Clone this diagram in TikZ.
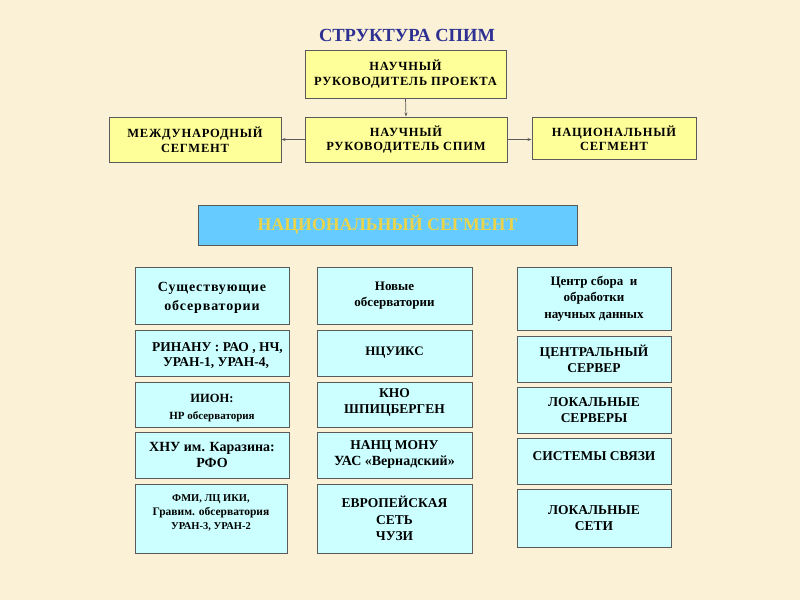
\documentclass[tikz,border=0pt]{standalone}
\usepackage{fontspec}
\setmainfont{Liberation Serif}
\newfontfamily\wideserif[LetterSpace=6]{Liberation Serif}
\usetikzlibrary{arrows.meta}
\definecolor{bgcol}{HTML}{FBF1D6}
\definecolor{yel}{HTML}{FFFF99}
\definecolor{cyanbox}{HTML}{CCFFFF}
\definecolor{barblue}{HTML}{66CCFF}
\definecolor{bartext}{HTML}{EBD44A}
\definecolor{titleblue}{HTML}{2E3192}
\definecolor{edge}{HTML}{5A5A5A}
\newcommand{\fsz}[2]{\fontsize{#1}{#2}\selectfont}
\newcommand{\up}[2]{\raisebox{#1pt}[\height][\depth]{#2}}
\tikzset{
  basebox/.style={draw=edge, line width=1pt, inner sep=0pt, align=center, font=\bfseries\fsz{13.5}{16}},
  ybox/.style={basebox, fill=yel, font=\bfseries\wideserif\fsz{12.5}{14.5}},
  cbox/.style={basebox, fill=cyanbox},
  conn/.style={draw=edge, line width=0.7pt, -{Stealth[length=4pt,width=3pt]}},
  sz/.style 2 args={minimum width=#1pt, minimum height=#2pt}
}
\begin{document}
\begin{tikzpicture}[x=1pt,y=-1pt]
\fill[bgcol] (0,0) rectangle (800,600);
\useasboundingbox (0,0) rectangle (800,600);

\node[font=\bfseries\fsz{18.5}{20}, text=titleblue] (title) at (407,35) {СТРУКТУРА СПИМ};

\node[ybox, sz={201}{48}] (top) at (405.5,74) {\up{-1}{\begin{tabular}{@{}c@{}}НАУЧНЫЙ\\РУКОВОДИТЕЛЬ ПРОЕКТА\end{tabular}}};
\node[ybox, sz={202}{45}] (mid) at (406,139.5) {НАУЧНЫЙ\\РУКОВОДИТЕЛЬ СПИМ};
\node[ybox, sz={172}{45}] (left) at (195,139.5) {МЕЖДУНАРОДНЫЙ\\СЕГМЕНТ};
\node[ybox, sz={164}{42}] (right) at (614,138) {НАЦИОНАЛЬНЫЙ\\СЕГМЕНТ};

\draw[conn] (top.south) -- (mid.north);
\draw[conn] (mid.west) -- (left.east);
\draw[conn] (mid.east) -- (mid.east -| right.west);

\node[basebox, fill=barblue, sz={379}{40}, text=bartext, font=\bfseries\fsz{17.8}{20}] (bar) at (387.5,225) {НАЦИОНАЛЬНЫЙ СЕГМЕНТ};

% column 1
\node[cbox, sz={154}{57}, font=\bfseries\wideserif\fsz{14}{19}] (c1a) at (212,295.5) {\up{-2}{\begin{tabular}{@{}c@{}}Существующие\\обсерватории\end{tabular}}};
\node[cbox, sz={154}{46}, font=\bfseries\fsz{13.5}{15}] (c1b) at (212,353) {\up{-3}{\begin{tabular}{@{}c@{}}\hspace*{11pt}РИНАНУ : РАО , НЧ,\\\hspace*{8pt}УРАН-1, УРАН-4,\end{tabular}}};
\node[cbox, sz={154}{45}, font=\bfseries\fsz{12.5}{17}] (c1c) at (212,404.5) {\up{-3}{\begin{tabular}{@{}c@{}}ИИОН:\\{\fsz{11}{17}НР обсерватория}\end{tabular}}};
\node[cbox, sz={154}{46}, font=\bfseries\fsz{14}{16}] (c1d) at (212,455) {ХНУ им. Каразина:\\РФО};
\node[cbox, sz={152}{69}, font=\bfseries\fsz{10.5}{14}] (c1e) at (211,518.5) {\up{6}{\begin{tabular}{@{}c@{}}ФМИ, ЛЦ ИКИ,\\{\fsz{11.5}{14}Гравим. обсерватория}\\УРАН-3, УРАН-2\end{tabular}}};

% column 2
\node[cbox, sz={155}{57}, font=\bfseries\fsz{13}{16}] (c2a) at (394.5,295.5) {Новые\\обсерватории};
\node[cbox, sz={155}{46}, font=\bfseries\fsz{13}{15}] (c2b) at (394.5,353) {НЦУИКС};
\node[cbox, sz={155}{45}, font=\bfseries\fsz{13.5}{15.5}] (c2c) at (394.5,404.5) {\up{2}{\begin{tabular}{@{}c@{}}КНО\\ШПИЦБЕРГЕН\end{tabular}}};
\node[cbox, sz={155}{46}, font=\bfseries\fsz{13.5}{16}] (c2d) at (394.5,455) {\up{1}{\begin{tabular}{@{}c@{}}НАНЦ МОНУ\\{\fsz{14}{16}УАС «Вернадский»}\end{tabular}}};
\node[cbox, sz={155}{69}, font=\bfseries\fsz{13.5}{16.5}] (c2e) at (394.5,518.5) {ЕВРОПЕЙСКАЯ\\СЕТЬ\\ЧУЗИ};

% column 3
\node[cbox, sz={154}{63}, font=\bfseries\fsz{13}{16.5}] (c3a) at (594,298.5) {Центр сбора\enspace и\\обработки\\научных данных};
\node[cbox, sz={154}{46}] (c3b) at (594,359) {ЦЕНТРАЛЬНЫЙ\\СЕРВЕР};
\node[cbox, sz={154}{46}] (c3c) at (594,410) {ЛОКАЛЬНЫЕ\\СЕРВЕРЫ};
\node[cbox, sz={154}{46}] (c3d) at (594,461) {\up{5}{СИСТЕМЫ СВЯЗИ}};
\node[cbox, sz={154}{58}] (c3e) at (594,518) {ЛОКАЛЬНЫЕ\\СЕТИ};
\end{tikzpicture}
\end{document}
